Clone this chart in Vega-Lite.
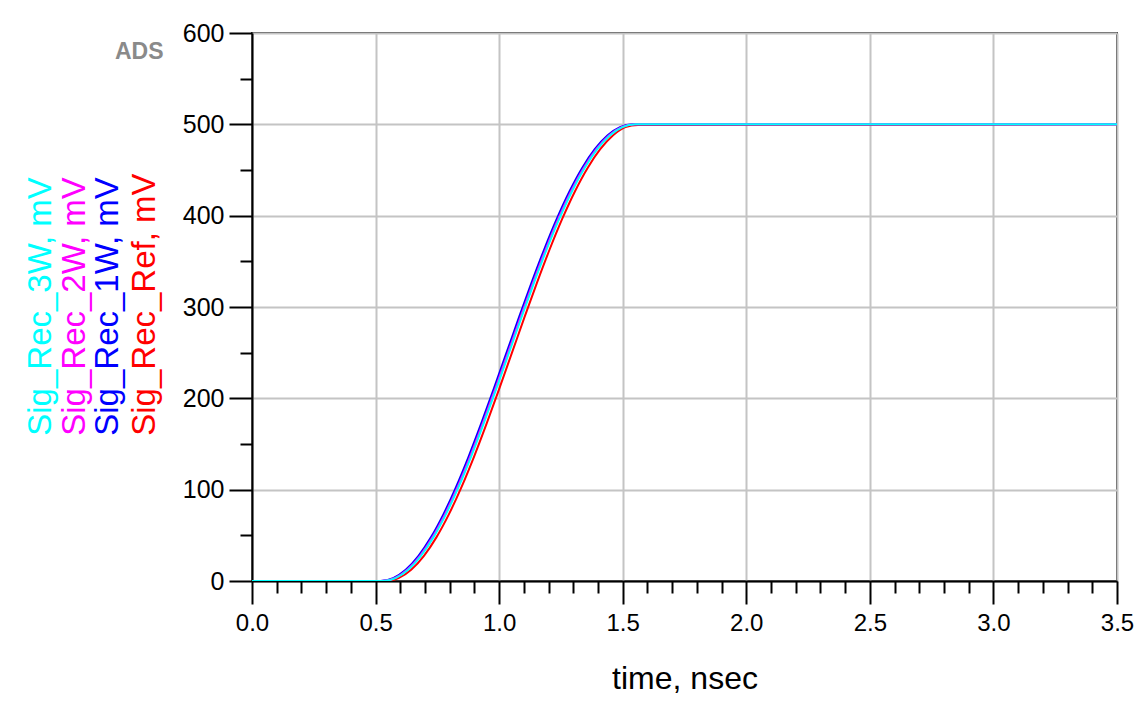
{
  "$schema": "https://vega.github.io/schema/vega-lite/v6.json",
  "width": 865,
  "height": 548,
  "autosize": {"type": "none"},
  "padding": {"left": 252, "top": 33, "right": 26, "bottom": 142},
  "background": "white",
  "config": {
    "view": {"stroke": "#333333", "strokeWidth": 2},
    "font": "Liberation Sans"
  },
  "title": {"text": "ADS", "anchor": "start", "frame": "group", "orient": "top", "dx": -137, "dy": 43, "fontSize": 23, "fontWeight": "bold", "color": "#8a8a8a", "font": "Liberation Sans", "offset": 0},
  "data": {"values": [
    {"t": 0, "v": 0, "s": "Sig_Rec_Ref"},
    {"t": 0.542, "v": 0, "s": "Sig_Rec_Ref"},
    {"t": 0.593, "v": 3.08, "s": "Sig_Rec_Ref"},
    {"t": 0.644, "v": 12.24, "s": "Sig_Rec_Ref"},
    {"t": 0.695, "v": 27.25, "s": "Sig_Rec_Ref"},
    {"t": 0.746, "v": 47.75, "s": "Sig_Rec_Ref"},
    {"t": 0.797, "v": 73.22, "s": "Sig_Rec_Ref"},
    {"t": 0.848, "v": 103.05, "s": "Sig_Rec_Ref"},
    {"t": 0.899, "v": 136.5, "s": "Sig_Rec_Ref"},
    {"t": 0.950, "v": 172.75, "s": "Sig_Rec_Ref"},
    {"t": 1.001, "v": 210.89, "s": "Sig_Rec_Ref"},
    {"t": 1.052, "v": 250, "s": "Sig_Rec_Ref"},
    {"t": 1.103, "v": 289.11, "s": "Sig_Rec_Ref"},
    {"t": 1.154, "v": 327.25, "s": "Sig_Rec_Ref"},
    {"t": 1.205, "v": 363.5, "s": "Sig_Rec_Ref"},
    {"t": 1.256, "v": 396.95, "s": "Sig_Rec_Ref"},
    {"t": 1.307, "v": 426.78, "s": "Sig_Rec_Ref"},
    {"t": 1.358, "v": 452.25, "s": "Sig_Rec_Ref"},
    {"t": 1.409, "v": 472.75, "s": "Sig_Rec_Ref"},
    {"t": 1.460, "v": 487.76, "s": "Sig_Rec_Ref"},
    {"t": 1.511, "v": 496.92, "s": "Sig_Rec_Ref"},
    {"t": 1.562, "v": 499.3, "s": "Sig_Rec_Ref"},
    {"t": 1.630, "v": 499.3, "s": "Sig_Rec_Ref"},
    {"t": 3.5, "v": 500, "s": "Sig_Rec_Ref"},
    {"t": 0, "v": 0, "s": "Sig_Rec_1W"},
    {"t": 0.520, "v": 0, "s": "Sig_Rec_1W"},
    {"t": 0.571, "v": 3.08, "s": "Sig_Rec_1W"},
    {"t": 0.622, "v": 12.24, "s": "Sig_Rec_1W"},
    {"t": 0.673, "v": 27.25, "s": "Sig_Rec_1W"},
    {"t": 0.724, "v": 47.75, "s": "Sig_Rec_1W"},
    {"t": 0.775, "v": 73.22, "s": "Sig_Rec_1W"},
    {"t": 0.826, "v": 103.05, "s": "Sig_Rec_1W"},
    {"t": 0.877, "v": 136.5, "s": "Sig_Rec_1W"},
    {"t": 0.928, "v": 172.75, "s": "Sig_Rec_1W"},
    {"t": 0.979, "v": 210.89, "s": "Sig_Rec_1W"},
    {"t": 1.030, "v": 250, "s": "Sig_Rec_1W"},
    {"t": 1.081, "v": 289.11, "s": "Sig_Rec_1W"},
    {"t": 1.132, "v": 327.25, "s": "Sig_Rec_1W"},
    {"t": 1.183, "v": 363.5, "s": "Sig_Rec_1W"},
    {"t": 1.234, "v": 396.95, "s": "Sig_Rec_1W"},
    {"t": 1.285, "v": 426.78, "s": "Sig_Rec_1W"},
    {"t": 1.336, "v": 452.25, "s": "Sig_Rec_1W"},
    {"t": 1.387, "v": 472.75, "s": "Sig_Rec_1W"},
    {"t": 1.438, "v": 487.76, "s": "Sig_Rec_1W"},
    {"t": 1.489, "v": 496.92, "s": "Sig_Rec_1W"},
    {"t": 1.540, "v": 500, "s": "Sig_Rec_1W"},
    {"t": 3.5, "v": 500, "s": "Sig_Rec_1W"},
    {"t": 0, "v": 0, "s": "Sig_Rec_2W"},
    {"t": 0.526, "v": 0, "s": "Sig_Rec_2W"},
    {"t": 0.577, "v": 3.08, "s": "Sig_Rec_2W"},
    {"t": 0.628, "v": 12.24, "s": "Sig_Rec_2W"},
    {"t": 0.679, "v": 27.25, "s": "Sig_Rec_2W"},
    {"t": 0.730, "v": 47.75, "s": "Sig_Rec_2W"},
    {"t": 0.781, "v": 73.22, "s": "Sig_Rec_2W"},
    {"t": 0.832, "v": 103.05, "s": "Sig_Rec_2W"},
    {"t": 0.883, "v": 136.5, "s": "Sig_Rec_2W"},
    {"t": 0.934, "v": 172.75, "s": "Sig_Rec_2W"},
    {"t": 0.985, "v": 210.89, "s": "Sig_Rec_2W"},
    {"t": 1.036, "v": 250, "s": "Sig_Rec_2W"},
    {"t": 1.087, "v": 289.11, "s": "Sig_Rec_2W"},
    {"t": 1.138, "v": 327.25, "s": "Sig_Rec_2W"},
    {"t": 1.189, "v": 363.5, "s": "Sig_Rec_2W"},
    {"t": 1.240, "v": 396.95, "s": "Sig_Rec_2W"},
    {"t": 1.291, "v": 426.78, "s": "Sig_Rec_2W"},
    {"t": 1.342, "v": 452.25, "s": "Sig_Rec_2W"},
    {"t": 1.393, "v": 472.75, "s": "Sig_Rec_2W"},
    {"t": 1.444, "v": 487.76, "s": "Sig_Rec_2W"},
    {"t": 1.495, "v": 496.92, "s": "Sig_Rec_2W"},
    {"t": 1.546, "v": 500, "s": "Sig_Rec_2W"},
    {"t": 3.5, "v": 500, "s": "Sig_Rec_2W"},
    {"t": 0, "v": 0, "s": "Sig_Rec_3W"},
    {"t": 0.530, "v": 0, "s": "Sig_Rec_3W"},
    {"t": 0.581, "v": 3.08, "s": "Sig_Rec_3W"},
    {"t": 0.632, "v": 12.24, "s": "Sig_Rec_3W"},
    {"t": 0.683, "v": 27.25, "s": "Sig_Rec_3W"},
    {"t": 0.734, "v": 47.75, "s": "Sig_Rec_3W"},
    {"t": 0.785, "v": 73.22, "s": "Sig_Rec_3W"},
    {"t": 0.836, "v": 103.05, "s": "Sig_Rec_3W"},
    {"t": 0.887, "v": 136.5, "s": "Sig_Rec_3W"},
    {"t": 0.938, "v": 172.75, "s": "Sig_Rec_3W"},
    {"t": 0.989, "v": 210.89, "s": "Sig_Rec_3W"},
    {"t": 1.040, "v": 250, "s": "Sig_Rec_3W"},
    {"t": 1.091, "v": 289.11, "s": "Sig_Rec_3W"},
    {"t": 1.142, "v": 327.25, "s": "Sig_Rec_3W"},
    {"t": 1.193, "v": 363.5, "s": "Sig_Rec_3W"},
    {"t": 1.244, "v": 396.95, "s": "Sig_Rec_3W"},
    {"t": 1.295, "v": 426.78, "s": "Sig_Rec_3W"},
    {"t": 1.346, "v": 452.25, "s": "Sig_Rec_3W"},
    {"t": 1.397, "v": 472.75, "s": "Sig_Rec_3W"},
    {"t": 1.448, "v": 487.76, "s": "Sig_Rec_3W"},
    {"t": 1.499, "v": 496.92, "s": "Sig_Rec_3W"},
    {"t": 1.550, "v": 500, "s": "Sig_Rec_3W"},
    {"t": 3.5, "v": 500, "s": "Sig_Rec_3W"}
  ]},
  "mark": {"type": "line", "strokeWidth": 2, "interpolate": "monotone", "clip": true},
  "encoding": {
    "x": {
      "field": "t", "type": "quantitative",
      "scale": {"domain": [0, 3.5], "nice": false, "zero": false},
      "axis": {
        "title": "time, nsec",
        "values": [0,0.1,0.2,0.3,0.4,0.5,0.6,0.7,0.8,0.9,1,1.1,1.2,1.3,1.4,1.5,1.6,1.7,1.8,1.9,2,2.1,2.2,2.3,2.4,2.5,2.6,2.7,2.8,2.9,3,3.1,3.2,3.3,3.4,3.5],
        "labelExpr": "abs(datum.value*2 - round(datum.value*2)) < 0.000001 ? format(datum.value, '.1f') : ''",
        "tickSize": {"condition": {"test": "abs(datum.value*2 - round(datum.value*2)) < 0.000001", "value": 23}, "value": 12},
        "gridOpacity": {"condition": {"test": "abs(datum.value*2 - round(datum.value*2)) < 0.000001", "value": 1}, "value": 0},
        "grid": true,
        "gridColor": "#c4c4c4",
        "gridWidth": 2,
        "domainColor": "#000000",
        "domainWidth": 2,
        "tickColor": "#000000",
        "tickWidth": 2,
        "labelFont": "Liberation Sans",
        "labelFontSize": 24,
        "labelColor": "#000000",
        "labelPadding": 7,
        "labelFlush": false,
        "labelOverlap": false,
        "titleFont": "Liberation Sans",
        "titleFontSize": 32,
        "titleFontWeight": "normal",
        "titleColor": "#000000",
        "titlePadding": 28
      }
    },
    "y": {
      "field": "v", "type": "quantitative",
      "scale": {"domain": [0, 600], "nice": false},
      "axis": {
        "title": null,
        "values": [0,50,100,150,200,250,300,350,400,450,500,550,600],
        "labelExpr": "datum.value % 100 === 0 ? datum.label : ''",
        "tickSize": {"condition": {"test": "datum.value % 100 === 0", "value": 23}, "value": 12},
        "gridOpacity": {"condition": {"test": "datum.value % 100 === 0", "value": 1}, "value": 0},
        "grid": true,
        "gridColor": "#c4c4c4",
        "gridWidth": 2,
        "domainColor": "#000000",
        "domainWidth": 2,
        "tickColor": "#000000",
        "tickWidth": 2,
        "labelFont": "Liberation Sans",
        "labelFontSize": 25,
        "labelColor": "#000000",
        "labelPadding": 5,
        "labelFlush": false,
        "labelOverlap": false
      }
    },
    "color": {
      "field": "s", "type": "nominal",
      "scale": {"domain": ["Sig_Rec_3W", "Sig_Rec_2W", "Sig_Rec_1W", "Sig_Rec_Ref"], "range": ["#00ffff", "#ff00ff", "#0000ff", "#ff0000"]},
      "legend": {
        "orient": "none",
        "legendX": -244,
        "legendY": 386,
        "direction": "horizontal",
        "columns": 4,
        "title": null,
        "symbolSize": 0,
        "symbolStrokeWidth": 0,
        "symbolOpacity": 0,
        "labelOffset": 0,
        "columnPadding": 0,
        "labelFont": "Liberation Sans",
        "labelFontSize": 33,
        "labelLimit": 500,
        "labelExpr": "datum.label + ', mV'",
        "encode": {"labels": {"update": {"angle": {"value": 270}, "dy": {"signal": "-18.3 * datum.index"}, "fill": {"scale": "color", "field": "value"}, "align": {"value": "left"}, "baseline": {"value": "middle"}}}}
      }
    }
  }
}
